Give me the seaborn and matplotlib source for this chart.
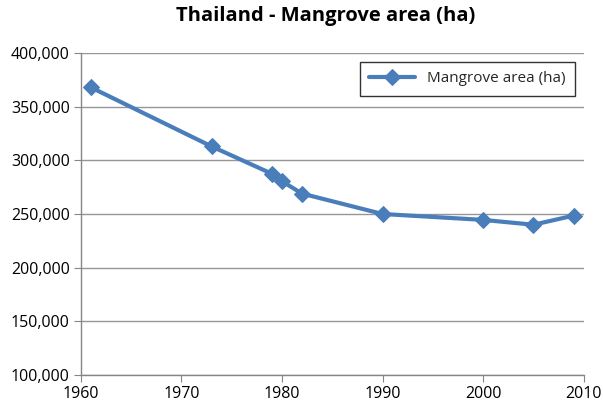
import matplotlib
matplotlib.use("Agg")
import matplotlib.pyplot as plt
import seaborn as sns
import pandas as pd
from matplotlib.ticker import FuncFormatter, MultipleLocator

years = [1961, 1973, 1979, 1980, 1982, 1990, 2000, 2005, 2009]
area = [368000, 313000, 287500, 280500, 269000, 250000, 244500, 240000, 248500]
series_name = "Mangrove area (ha)"
title = "Thailand - Mangrove area (ha)"

df = pd.DataFrame({"Year": years, series_name: area})

sns.set_style("white")
plt.rcParams['font.family'] = ['Open Sans', 'DejaVu Sans']

fig = plt.figure(figsize=(6.03, 4.08), dpi=100)
ax = fig.add_axes([0.134, 0.081, 0.834, 0.789])

color = "#4a7ebb"
sns.lineplot(data=df, x="Year", y=series_name, ax=ax, color=color, linewidth=3,
             marker="D", markersize=8, markeredgecolor=color, label=series_name)

ax.set_xlim(1960, 2010)
ax.set_ylim(100000, 400000)
ax.xaxis.set_major_locator(MultipleLocator(10))
ax.yaxis.set_major_locator(MultipleLocator(50000))
ax.yaxis.set_major_formatter(FuncFormatter(lambda v, p: f"{int(v):,}"))
ax.grid(axis="y", color="#969696", linewidth=1)
ax.set_axisbelow(True)
ax.set_xlabel("")
ax.set_ylabel("")
for s in ["top", "right"]:
    ax.spines[s].set_visible(False)
for s in ["left", "bottom"]:
    ax.spines[s].set_color("#868686")
    ax.spines[s].set_linewidth(1)
ax.tick_params(axis="both", which="major", direction="out", length=5, color="#868686",
               labelsize=11.5, labelcolor="black", bottom=True, left=True, pad=3)

fig.suptitle(title, fontsize=14.5, fontweight="bold", x=0.54, y=0.985, color="black")

leg = ax.legend(loc="upper right", bbox_to_anchor=(0.998, 0.995), frameon=True, fancybox=False,
                edgecolor="black", fontsize=11, handlelength=3, borderpad=0.6)
leg.get_frame().set_linewidth(1)

fig.savefig("out.png", dpi=100, facecolor="white")
